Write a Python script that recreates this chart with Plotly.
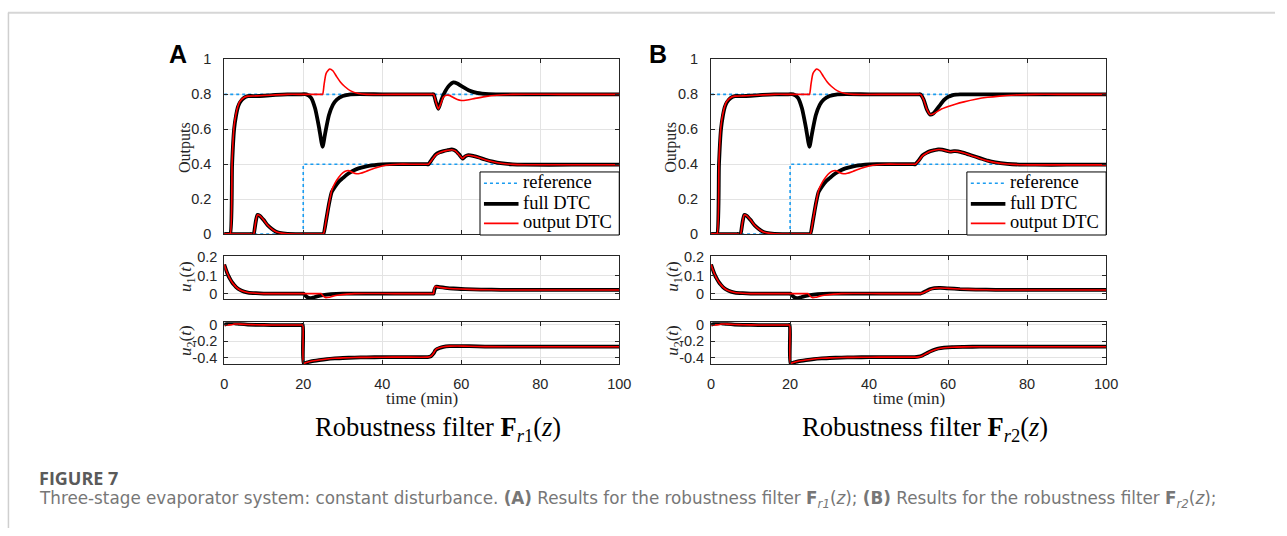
import plotly.graph_objects as go

# ---------------- data ----------------
T_REF_UP = [0, 100]
REF_UP = [0.8, 0.8]
T_REF_LOW = [0, 20, 20, 100]
REF_LOW = [0, 0, 0.4, 0.4]

# upper output y1 - common start (t < 45)
T_Y1_FULL_START = [0, 1, 1.5, 2, 2.5, 3, 3.5, 4, 5, 6, 8, 10, 13, 16, 19, 20.8, 22, 23, 24, 24.9, 25.5, 26.5, 27.5, 28.5, 30, 32, 40]
Y1_FULL_START = [0, 0, 0, 0.4, 0.6, 0.68, 0.73, 0.755, 0.78, 0.79, 0.79, 0.792, 0.797, 0.8, 0.8, 0.8, 0.78, 0.72, 0.61, 0.5, 0.57, 0.68, 0.74, 0.77, 0.79, 0.8, 0.8]
T_Y1_OUT_START = [0, 1, 1.5, 2, 2.5, 3, 3.5, 4, 5, 6, 8, 10, 13, 16, 20, 24.4, 24.9, 25.3, 25.8, 26.7, 27.5, 28.5, 29.5, 30.5, 32, 34, 36, 45]
Y1_OUT_START = [0, 0, 0, 0.42, 0.62, 0.69, 0.735, 0.76, 0.782, 0.79, 0.791, 0.793, 0.797, 0.8, 0.8, 0.8, 0.8, 0.86, 0.92, 0.945, 0.935, 0.9, 0.868, 0.845, 0.82, 0.805, 0.8, 0.8]

A_T_Y1_FULL_END = [50, 52.5, 53, 53.6, 54.2, 55, 56, 57, 58, 59, 60, 62, 64, 67, 80, 100]
A_Y1_FULL_END = [0.8, 0.8, 0.8, 0.755, 0.717, 0.77, 0.82, 0.852, 0.868, 0.862, 0.848, 0.822, 0.808, 0.801, 0.8, 0.8]
A_T_Y1_OUT_END = [52.5, 53, 53.6, 54.2, 54.8, 55.5, 56.3, 57, 58, 59, 60, 61.5, 63.5, 66, 69, 73, 85, 100]
A_Y1_OUT_END = [0.8, 0.8, 0.755, 0.717, 0.745, 0.785, 0.795, 0.794, 0.782, 0.77, 0.765, 0.768, 0.777, 0.787, 0.795, 0.8, 0.8, 0.8]
B_T_Y1_FULL_END = [50, 52.5, 53, 53.8, 54.6, 55.4, 56.2, 57, 58, 59, 60, 61, 62, 63, 75, 100]
B_Y1_FULL_END = [0.8, 0.8, 0.8, 0.77, 0.715, 0.685, 0.69, 0.71, 0.74, 0.768, 0.785, 0.794, 0.798, 0.8, 0.8, 0.8]
B_T_Y1_OUT_END = [52.5, 53, 53.8, 54.6, 55.4, 56.2, 57, 58, 60, 62, 64, 67, 70, 73, 77, 82, 90, 100]
B_Y1_OUT_END = [0.8, 0.8, 0.77, 0.715, 0.685, 0.688, 0.698, 0.712, 0.73, 0.745, 0.757, 0.772, 0.783, 0.79, 0.796, 0.8, 0.8, 0.8]

# lower output y2 - common start
T_Y2_FULL_START = [0, 4, 6.4, 6.9, 7.4, 7.9, 8.4, 9, 10, 11, 12, 13, 14, 16, 20, 24.6, 25.1, 25.8, 26.5, 27.2, 28, 29, 30, 31, 32, 33, 34, 36, 38, 40, 42, 47]
Y2_FULL_START = [0, 0, 0, 0, -0.005, 0.06, 0.11, 0.105, 0.08, 0.05, 0.03, 0.015, 0.007, 0.001, 0, 0, 0, 0.08, 0.17, 0.24, 0.27, 0.3, 0.32, 0.34, 0.355, 0.367, 0.376, 0.388, 0.395, 0.399, 0.4, 0.4]
T_Y2_OUT_START = [0, 4, 6.4, 6.9, 7.4, 7.9, 8.4, 9, 10, 11, 12, 13, 14, 16, 20, 24.6, 25.1, 25.8, 26.5, 27.2, 28, 29, 30, 31, 31.6, 32.5, 33.5, 34.5, 36, 38, 40, 42, 44, 48]
Y2_OUT_START = [0, 0, 0, 0, -0.005, 0.06, 0.11, 0.105, 0.08, 0.05, 0.03, 0.015, 0.007, 0.001, 0, 0, 0, 0.08, 0.17, 0.25, 0.29, 0.325, 0.35, 0.362, 0.363, 0.352, 0.345, 0.348, 0.36, 0.377, 0.39, 0.397, 0.4, 0.4]

A_T_Y2_END = [51.2, 51.7, 52.5, 53.5, 54.5, 55.5, 56.5, 57.6, 58.5, 59.5, 60.3, 61, 61.8, 63, 64.5, 66, 68, 70, 73, 76, 88, 100]
A_Y2_FULL_END = [0.4, 0.4, 0.425, 0.455, 0.468, 0.475, 0.48, 0.485, 0.478, 0.455, 0.432, 0.445, 0.452, 0.448, 0.438, 0.427, 0.415, 0.406, 0.399, 0.397, 0.397, 0.397]
A_Y2_OUT_END = [0.4, 0.4, 0.423, 0.452, 0.466, 0.474, 0.479, 0.483, 0.476, 0.453, 0.433, 0.446, 0.451, 0.447, 0.437, 0.426, 0.414, 0.405, 0.399, 0.397, 0.397, 0.397]
B_T_Y2_END = [51.2, 51.7, 52.5, 53.5, 54.5, 55.5, 56.5, 57.5, 58.5, 59.5, 60.5, 61.5, 62.5, 64, 66, 68, 70, 72, 75, 78, 82, 90, 100]
B_Y2_FULL_END = [0.4, 0.4, 0.42, 0.45, 0.465, 0.475, 0.48, 0.485, 0.484, 0.478, 0.472, 0.475, 0.474, 0.465, 0.45, 0.435, 0.42, 0.41, 0.402, 0.398, 0.397, 0.397, 0.397]
B_Y2_OUT_END = [0.4, 0.4, 0.418, 0.448, 0.463, 0.474, 0.48, 0.484, 0.483, 0.477, 0.471, 0.474, 0.473, 0.464, 0.449, 0.433, 0.419, 0.409, 0.401, 0.397, 0.396, 0.396, 0.396]

# control u1 - common start
T_U1_FULL_START = [0, 0.5, 1, 1.5, 2, 2.5, 3, 4, 5, 6, 8, 10, 15, 19.6, 20, 20.5, 21, 21.7, 22.5, 23.5, 25, 27, 30, 40]
U1_FULL_START = [0.16, 0.128, 0.1, 0.08, 0.062, 0.048, 0.036, 0.02, 0.011, 0.006, 0.002, 0, 0, 0, 0, -0.01, -0.02, -0.025, -0.022, -0.015, -0.008, -0.003, 0, 0]
T_U1_OUT_START = [0, 0.5, 1, 1.5, 2, 2.5, 3, 4, 5, 6, 8, 10, 17, 24.1, 24.5, 25, 25.6, 26.5, 27.5, 29, 31, 33, 43]
U1_OUT_START = [0.16, 0.128, 0.1, 0.08, 0.062, 0.048, 0.036, 0.02, 0.011, 0.006, 0.002, 0, 0, 0, 0, -0.012, -0.022, -0.02, -0.014, -0.008, -0.003, 0, 0]

A_T_U1_FULL_END = [52.6, 53, 53.2, 53.6, 54.5, 56, 58, 61, 65, 70, 85, 100]
A_U1_FULL_END = [0, 0, 0.02, 0.038, 0.036, 0.032, 0.028, 0.025, 0.022, 0.021, 0.021, 0.021]
A_T_U1_OUT_END = [52.6, 53, 53.1, 53.4, 54, 55, 57, 60, 64, 70, 85, 100]
A_U1_OUT_END = [0, 0, 0.02, 0.04, 0.037, 0.033, 0.028, 0.025, 0.022, 0.02, 0.02, 0.02]
B_T_U1_END = [52.5, 53, 53.5, 54.5, 55.5, 56.5, 58, 60, 63, 67, 72, 85, 100]
B_U1_FULL_END = [0, 0, 0.004, 0.015, 0.025, 0.03, 0.031, 0.029, 0.025, 0.022, 0.021, 0.021, 0.021]
B_U1_OUT_END = [0, 0, 0.003, 0.013, 0.023, 0.029, 0.031, 0.029, 0.025, 0.022, 0.02, 0.02, 0.02]

# control u2 - common start
T_U2_FULL_START = [0, 1, 2, 3, 4, 6, 8, 12, 16, 19.6, 19.9, 20.1, 21, 22, 24, 26, 28, 30, 33, 36, 40, 45]
U2_FULL_START = [0, 0.015, 0.02, 0.015, 0.01, 0.003, 0, -0.003, -0.003, -0.003, -0.003, -0.47, -0.46, -0.447, -0.432, -0.42, -0.412, -0.406, -0.401, -0.398, -0.396, -0.395]
T_U2_OUT_START = [0, 2, 2.5, 4, 6, 8, 12, 16, 19.6, 19.9, 20.1, 21, 22, 24, 26, 28, 30, 33, 36, 40, 45]
U2_OUT_START = [0, 0, 0.01, 0.008, 0.003, 0, -0.003, -0.003, -0.003, -0.003, -0.47, -0.458, -0.445, -0.43, -0.418, -0.41, -0.405, -0.4, -0.398, -0.396, -0.395]

A_T_U2_FULL_END = [51.5, 52.3, 53, 53.5, 54.5, 55.5, 57, 59, 62, 66, 80, 100]
A_U2_FULL_END = [-0.395, -0.385, -0.35, -0.31, -0.285, -0.27, -0.262, -0.26, -0.262, -0.267, -0.268, -0.268]
A_T_U2_OUT_END = [51.5, 52.3, 52.8, 53.2, 53.6, 54.5, 55.5, 57, 59, 62, 66, 80, 100]
A_U2_OUT_END = [-0.395, -0.385, -0.36, -0.33, -0.3, -0.28, -0.268, -0.261, -0.26, -0.262, -0.267, -0.268, -0.268]
B_T_U2_END = [51.5, 52.5, 53.5, 54.5, 55.5, 56.5, 57.5, 59, 61, 64, 68, 80, 100]
B_U2_FULL_END = [-0.395, -0.39, -0.375, -0.35, -0.325, -0.305, -0.29, -0.28, -0.273, -0.27, -0.268, -0.268, -0.268]
B_U2_OUT_END = [-0.395, -0.392, -0.378, -0.352, -0.327, -0.307, -0.292, -0.281, -0.274, -0.27, -0.268, -0.268, -0.268]

X_TICKS = [0, 20, 40, 60, 80, 100]
Y_TICKS = [0, 0.2, 0.4, 0.6, 0.8, 1]
Y_TICKTEXT = ["0", "0.2", "0.4", "0.6", "0.8", "1"]
U1_TICKS = [0, 0.1, 0.2]
U1_TICKTEXT = ["0", "0.1", "0.2"]
U2_TICKS = [-0.4, -0.2, 0]
U2_TICKTEXT = ["-0.4", "-0.2", "0"]
LEGEND_NAMES = ["reference", "full DTC", "output DTC"]

# ---------------- styling ----------------
W, H = 1287, 536
BLUE = "#1a9cf0"
BLACK = "#000000"
RED = "#ff0000"
AX = "#262626"
GRID = "#e3e3e3"
SERIF = "Liberation Serif"
SANS = "Liberation Sans"
W_BLUE, W_BLACK, W_RED = 1.6, 3.8, 1.6


def px(x):
    return x / W


def py(y):
    return 1 - y / H


fig = go.Figure()

panels = {
    "A": dict(
        axes=[("x", "y"), ("x2", "y2"), ("x3", "y3")],
        y1_full=(T_Y1_FULL_START + A_T_Y1_FULL_END, Y1_FULL_START + A_Y1_FULL_END),
        y1_out=(T_Y1_OUT_START + A_T_Y1_OUT_END, Y1_OUT_START + A_Y1_OUT_END),
        y2_full=(T_Y2_FULL_START + A_T_Y2_END, Y2_FULL_START + A_Y2_FULL_END),
        y2_out=(T_Y2_OUT_START + A_T_Y2_END, Y2_OUT_START + A_Y2_OUT_END),
        u1_full=(T_U1_FULL_START + A_T_U1_FULL_END, U1_FULL_START + A_U1_FULL_END),
        u1_out=(T_U1_OUT_START + A_T_U1_OUT_END, U1_OUT_START + A_U1_OUT_END),
        u2_full=(T_U2_FULL_START + A_T_U2_FULL_END, U2_FULL_START + A_U2_FULL_END),
        u2_out=(T_U2_OUT_START + A_T_U2_OUT_END, U2_OUT_START + A_U2_OUT_END),
    ),
    "B": dict(
        axes=[("x4", "y4"), ("x5", "y5"), ("x6", "y6")],
        y1_full=(T_Y1_FULL_START + B_T_Y1_FULL_END, Y1_FULL_START + B_Y1_FULL_END),
        y1_out=(T_Y1_OUT_START + B_T_Y1_OUT_END, Y1_OUT_START + B_Y1_OUT_END),
        y2_full=(T_Y2_FULL_START + B_T_Y2_END, Y2_FULL_START + B_Y2_FULL_END),
        y2_out=(T_Y2_OUT_START + B_T_Y2_END, Y2_OUT_START + B_Y2_OUT_END),
        u1_full=(T_U1_FULL_START + B_T_U1_END, U1_FULL_START + B_U1_FULL_END),
        u1_out=(T_U1_OUT_START + B_T_U1_END, U1_OUT_START + B_U1_OUT_END),
        u2_full=(T_U2_FULL_START + B_T_U2_END, U2_FULL_START + B_U2_FULL_END),
        u2_out=(T_U2_OUT_START + B_T_U2_END, U2_OUT_START + B_U2_OUT_END),
    ),
}


def add_line(xy, axes, color, width, dash=None, name=None, smooth=True):
    x, y = xy
    line = dict(color=color, width=width, dash=dash)
    if smooth:
        line.update(shape="spline", smoothing=0.6)
    else:
        line.update(shape="linear")
    fig.add_trace(go.Scatter(
        x=x, y=y, mode="lines", xaxis=axes[0], yaxis=axes[1],
        line=line, name=name, showlegend=False, hoverinfo="skip",
    ))


for key, p in panels.items():
    top, u1, u2 = p["axes"]
    add_line((T_REF_UP, REF_UP), top, BLUE, W_BLUE, "dot", LEGEND_NAMES[0], False)
    add_line((T_REF_LOW, REF_LOW), top, BLUE, W_BLUE, "dot", LEGEND_NAMES[0], False)
    add_line(p["y1_full"], top, BLACK, W_BLACK, None, LEGEND_NAMES[1])
    add_line(p["y2_full"], top, BLACK, W_BLACK, None, LEGEND_NAMES[1])
    add_line(p["y1_out"], top, RED, W_RED, None, LEGEND_NAMES[2])
    add_line(p["y2_out"], top, RED, W_RED, None, LEGEND_NAMES[2])
    add_line(p["u1_full"], u1, BLACK, W_BLACK, None, LEGEND_NAMES[1])
    add_line(p["u1_out"], u1, RED, W_RED, None, LEGEND_NAMES[2])
    add_line(p["u2_full"], u2, BLACK, W_BLACK, None, LEGEND_NAMES[1])
    add_line(p["u2_out"], u2, RED, W_RED, None, LEGEND_NAMES[2])

common = dict(showline=True, linecolor=AX, linewidth=1, mirror="allticks", ticks="inside",
              ticklen=4, tickcolor=AX, showgrid=True, gridcolor=GRID, gridwidth=1,
              zeroline=False, tickfont=dict(family=SANS, size=14.5, color=AX), fixedrange=True)

xdom = {"A": [px(223), px(623)], "B": [px(716), px(1116)]}
ydom_top = [py(233), py(53)]
ydom_u1 = [py(300), py(256)]
ydom_u2 = [py(367), py(324)]

layout_axes = {}
for key, idx in (("A", 0), ("B", 3)):
    for j, (ydom, yr, yt, ytt, standoff) in enumerate([
        (ydom_top, [0, 1], Y_TICKS, Y_TICKTEXT, 9),
        (ydom_u1, [-0.03, 0.205], U1_TICKS, U1_TICKTEXT, 3),
        (ydom_u2, [-0.48, 0.03], U2_TICKS, U2_TICKTEXT, 3),
    ]):
        n = idx + j + 1
        xs = "xaxis" if n == 1 else f"xaxis{n}"
        ys = "yaxis" if n == 1 else f"yaxis{n}"
        yref = "y" if n == 1 else f"y{n}"
        xref = "x" if n == 1 else f"x{n}"
        layout_axes[xs] = dict(common, domain=xdom[key], range=[0, 100], tickvals=X_TICKS,
                               showticklabels=(j == 2), anchor=yref, ticklabelstandoff=7)
        layout_axes[ys] = dict(common, domain=ydom, range=yr, tickvals=yt, ticktext=ytt,
                               anchor=xref, ticklabelstandoff=standoff)

fig.update_layout(**layout_axes)
fig.update_layout(width=W, height=H, margin=dict(l=0, r=0, t=0, b=0),
                  paper_bgcolor="white", plot_bgcolor="white", showlegend=False)

ann = []
shapes = []


def text(x, y, s, size, family, color="#000000", angle=0, xanchor="center", yanchor="middle"):
    ann.append(dict(x=px(x), y=py(y), xref="paper", yref="paper", text=s, showarrow=False,
                    font=dict(size=size, family=family, color=color), textangle=angle,
                    xanchor=xanchor, yanchor=yanchor))


legend_styles = [(BLUE, W_BLUE, "dot"), (BLACK, W_BLACK, "solid"), (RED, W_RED, "solid")]
legend_rows = [180.7, 202, 222]

for dx, lab, sub in ((0, "A", "1"), (493, "B", "2")):
    text((176 if lab == "A" else 169) + dx, 47, f"<b>{lab}</b>", 25, SANS)
    text(182.5 + dx, 144, "Outputs", 16, SERIF, AX, -90)
    text(185.5 + dx, 277, "<i>u</i><sub>1</sub>(<i>t</i>)", 17, SERIF, AX, -90)
    text(185.5 + dx, 343, "<i>u</i><sub>2</sub>(<i>t</i>)", 17, SERIF, AX, -90)
    text(423 + dx, 403, "time (min)", 17, SERIF, AX)
    text(439.5 + dx, 434, f"Robustness filter <b>F</b><sub><i>r</i>{sub}</sub>(<i>z</i>)", 26.5, SERIF)
    # legend box (drawn MATLAB style)
    shapes.append(dict(type="rect", xref="paper", yref="paper",
                       x0=px(482 + dx), x1=px(623 + dx), y0=py(234), y1=py(169),
                       line=dict(color="#000000", width=1), fillcolor="white", layer="above"))
    for (c, wdt, dsh), yy, name in zip(legend_styles, legend_rows, LEGEND_NAMES):
        shapes.append(dict(type="line", xref="paper", yref="paper",
                           x0=px(486 + dx), x1=px(521 + dx), y0=py(yy), y1=py(yy),
                           line=dict(color=c, width=wdt, dash=dsh), layer="above"))
        text(524 + dx, yy - 1.5, name, 18.5, SERIF, "#000000", xanchor="left")

text(33, 484, "<b>FIGURE 7</b>", 18, "Open Sans", "#5a5a5a", xanchor="left")
text(33, 507, "Three-stage evaporator system: constant disturbance. <b>(A)</b> Results for the robustness filter "
     "<b>F</b><sub><i>r1</i></sub>(<i>z</i>); <b>(B)</b> Results for the robustness filter "
     "<b>F</b><sub><i>r2</i></sub>(<i>z</i>);", 16.8, "DejaVu Sans", "#777777", xanchor="left")

shapes += [
    dict(type="line", xref="paper", yref="paper", x0=px(4), x1=1, y0=py(5), y1=py(5),
         line=dict(color="#d6d6d6", width=2)),
    dict(type="line", xref="paper", yref="paper", x0=px(4.5), x1=px(4.5), y0=py(5), y1=0,
         line=dict(color="#cfcfcf", width=1.5)),
]

fig.update_layout(annotations=ann, shapes=shapes)

fig.write_html("out.html", config={"displayModeBar": False, "staticPlot": True},
               post_script="document.body.style.margin='0px';document.body.style.overflow='hidden';")
